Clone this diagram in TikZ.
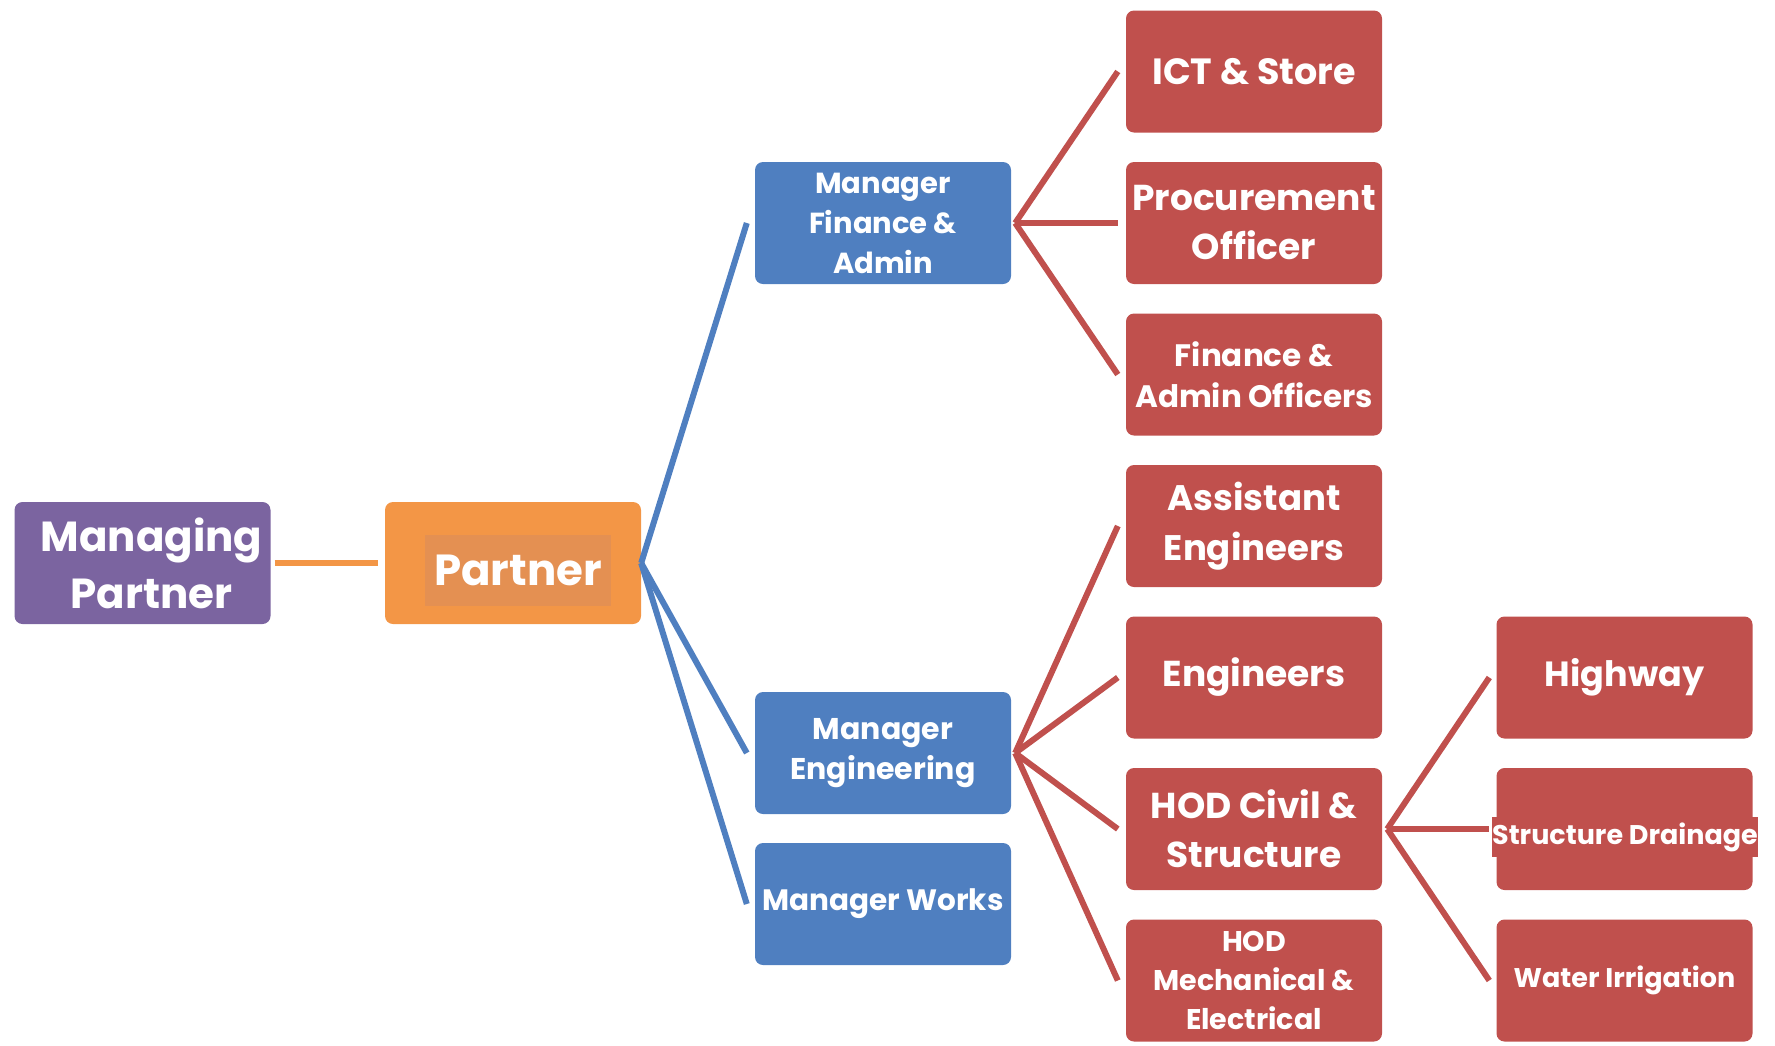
\documentclass[tikz,border=0pt]{standalone}
\usepackage{fontspec}
\setmainfont{Poppins}
\usetikzlibrary{positioning}

\definecolor{mpurple}{RGB}{123,100,160}
\definecolor{porange}{RGB}{243,150,70}
\definecolor{porangein}{RGB}{228,144,82}
\definecolor{mblue}{RGB}{79,127,192}
\definecolor{ored}{RGB}{192,80,77}
\newcommand{\boxfont}[2]{\bfseries\fontsize{#1}{#2}\selectfont}

\begin{document}
\begin{tikzpicture}[x=1pt,y=-1pt]
        \tikzstyle{box} = [rectangle, rounded corners=8pt, text=white, align=center, minimum height=122pt, minimum width=256pt, inner sep=0pt]
        \tikzstyle{purplebox} = [box, fill=mpurple]
        \tikzstyle{orangebox} = [box, fill=porange]
        \tikzstyle{bluebox} = [box, fill=mblue]
        \tikzstyle{redbox} = [box, fill=ored]
        \tikzstyle{link} = [line width=6pt]

        \useasboundingbox (0,0) rectangle (1775,1045);

        \node (mp) [purplebox, font=\boxfont{42}{57}] at (142.5,563) {\hspace*{18pt}Managing\\\hspace*{18pt}Partner};
        \node (partner) [orangebox] at (513,563) {};
        \node (partnertxt) [fill=porangein, text=white, minimum width=186pt, minimum height=71pt, inner sep=0pt, font=\boxfont{43.5}{57}] at (518,570) {Partner};

        \node (mfa) [bluebox, font=\boxfont{29}{40}] at (883,223) {Manager\\Finance \&\\Admin};
        \node (meng) [bluebox, font=\boxfont{30}{40}, below=530pt of mfa.center, anchor=center] {Manager\\Engineering};
        \node (mworks) [bluebox, font=\boxfont{29.5}{40}, below=151pt of meng.center, anchor=center] {Manager Works};

        \node (ict) [redbox, font=\boxfont{36.5}{49}] at (1254,71.5) {ICT \& Store};
        \node (proc) [redbox, font=\boxfont{36}{49}, below=151.5pt of ict.center, anchor=center] {Procurement\\Officer};
        \node (fao) [redbox, font=\boxfont{31}{41}, below=151.5pt of proc.center, anchor=center] {Finance \&\\Admin Officers};
        \node (asseng) [redbox, font=\boxfont{35.5}{50}, below=151.5pt of fao.center, anchor=center] {Assistant\\Engineers};
        \node (eng) [redbox, font=\boxfont{36}{49}, below=151.5pt of asseng.center, anchor=center] {Engineers};
        \node (hodcivil) [redbox, font=\boxfont{36}{49}, below=151.5pt of eng.center, anchor=center] {HOD Civil \&\\Structure};
        \node (hodmech) [redbox, font=\boxfont{28.5}{39}, below=151.5pt of hodcivil.center, anchor=center] {HOD\\Mechanical \&\\Electrical};

        \node (highway) [redbox, font=\boxfont{35}{49}, right=370.5pt of eng.center, anchor=center] {Highway};
        \node (drain) [redbox, right=370.5pt of hodcivil.center, anchor=center] {};
        \node (draintxt) [fill=ored, text=white, inner sep=0pt, minimum height=40pt, font=\boxfont{27}{30}] at (1625,837) {Structure Drainage};
        \node (water) [redbox, font=\boxfont{27}{36}, right=370.5pt of hodmech.center, anchor=center] {Water Irrigation};

        % managing partner to partner
        \draw [link, draw=porange] ([xshift=4pt]mp.east) -- ([xshift=-7pt]partner.west);

        % partner to managers
        \foreach \m in {mfa, meng, mworks}
            \draw [link, draw=mblue] (partner.east) -- ([xshift=-8pt]\m.west);

        % finance side
        \foreach \r in {ict, proc, fao}
            \draw [link, draw=ored] ([xshift=4pt]mfa.east) -- ([xshift=-8pt]\r.west);

        % engineering side
        \foreach \r in {asseng, eng, hodcivil, hodmech}
            \draw [link, draw=ored] ([xshift=4pt]meng.east) -- ([xshift=-8pt]\r.west);

        % civil and structure
        \foreach \r in {highway, drain, water}
            \draw [link, draw=ored] ([xshift=5pt]hodcivil.east) -- ([xshift=-7pt]\r.west);
    \end{tikzpicture}
\end{document}
